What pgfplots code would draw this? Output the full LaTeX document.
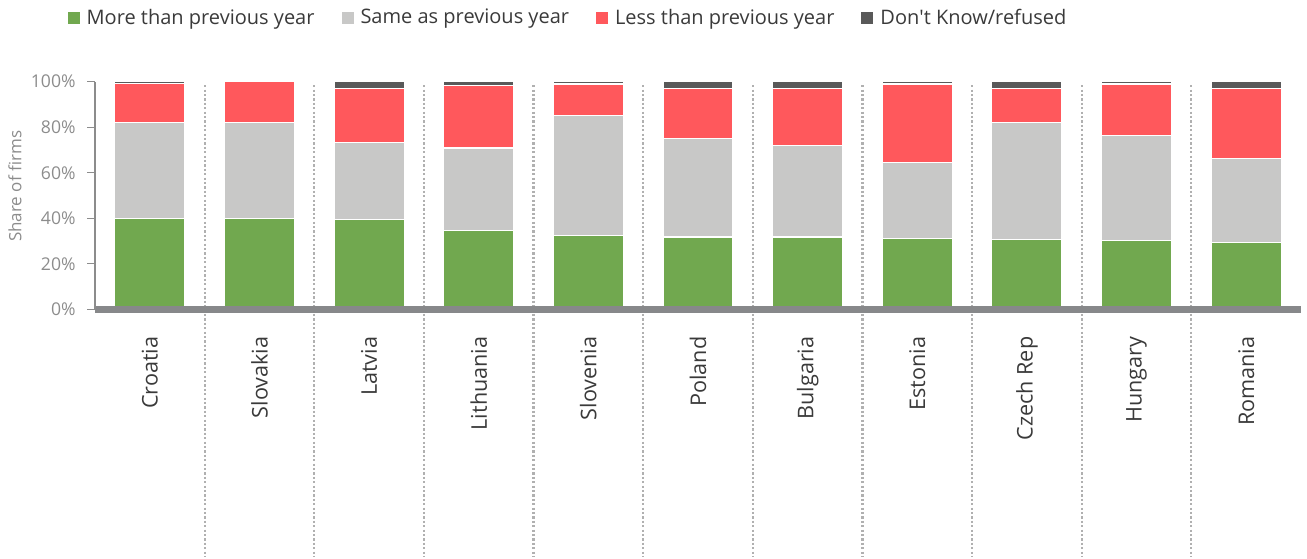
\documentclass[border=0pt]{standalone}
\usepackage{pgfplots}
\usepackage{pgfplotstable}
\pgfplotsset{compat=1.18}
\usepackage{fontspec}
\setmainfont{Open Sans}
\definecolor{cgreen}{HTML}{71A84F}
\definecolor{cgray}{HTML}{C8C8C7}
\definecolor{cred}{HTML}{FF585C}
\definecolor{cdark}{HTML}{595959}
\definecolor{basegray}{HTML}{87888A}
\definecolor{labgray}{HTML}{8C8C8C}
\definecolor{sepgray}{HTML}{B0B0B0}
\definecolor{textdark}{HTML}{3A3A3A}

\pgfplotstableread{
idx more same less dk
0  40.0 42.0 17.3 0.7
1  40.0 42.0 18.0 0.0
2  39.5 33.7 23.9 2.9
3  34.7 36.2 27.3 1.8
4  32.6 52.6 13.8 1.0
5  31.8 43.2 22.1 2.9
6  31.8 40.3 25.0 2.9
7  31.2 33.2 34.6 1.0
8  30.8 51.2 15.1 2.9
9  30.3 46.0 22.7 1.0
10 29.3 37.0 30.8 2.9
}\data

\begin{document}
\begin{tikzpicture}
\begin{axis}[
  at={(47.5pt,124.35pt)}, anchor=south west,
  scale only axis, width=603pt, height=113.8pt,
  xmin=-0.5, xmax=10.5, ymin=0, ymax=100,
  ybar stacked, bar width=0.64,
  axis on top,
  axis x line*=bottom, axis y line*=left,
  x axis line style={-, line width=3.3pt, color=basegray},
  y axis line style={-, line width=0.8pt, color=labgray},
  xtick=data,
  xticklabels={Croatia,Slovakia,Latvia,Lithuania,Slovenia,Poland,Bulgaria,Estonia,Czech Rep,Hungary,Romania},
  xtick style={draw=none},
  xticklabel style={rotate=90, anchor=east, inner sep=0pt, font=\fontsize{10.8}{12}\selectfont, text=textdark},
  xticklabel shift=9.5pt,
  ytick={0,20,40,60,80,100},
  yticklabels={0\%,20\%,40\%,60\%,80\%,100\%},
  ytick style={color=labgray, line width=0.6pt},
  tick align=outside, major tick length=4pt,
  yticklabel style={font=\fontsize{8.8}{10}\selectfont, text=labgray, inner sep=0pt},
  yticklabel shift=5.5pt,
  ylabel={Share of firms},
  ylabel style={at={(axis description cs:-0.0663,0.54)}, anchor=center, font=\fontsize{8.5}{10}\selectfont, text=labgray},
  legend columns=4,
  legend cell align=left,
  legend image code/.code={\path[#1, draw=none] (0pt,-3pt) rectangle (6pt,3pt);},
  legend style={at={(axis description cs:-0.023,1.28)}, anchor=west, draw=none, fill=none, inner sep=0pt,
    font=\fontsize{10}{12}\selectfont, text=textdark,
    nodes={inner sep=1.5pt},
    /tikz/every odd column/.append style={column sep=2pt},
    /tikz/every even column/.append style={column sep=12pt}},
  clip=false,
]
\addplot[fill=cgreen, draw=white, line width=0.6pt] table[x=idx, y=more] {\data};
\addplot[fill=cgray, draw=white, line width=0.6pt] table[x=idx, y=same] {\data};
\addplot[fill=cred, draw=white, line width=0.6pt] table[x=idx, y=less] {\data};
\addplot[fill=cdark, draw=white, line width=0.6pt] table[x=idx, y=dk] {\data};
\legend{More than previous year, Same as previous year, Less than previous year, Don\textquotesingle t Know/refused}
\pgfplotsinvokeforeach{0.5,1.5,2.5,3.5,4.5,5.5,6.5,7.5,8.5,9.5}{
  \draw[sepgray, line width=1.1pt, dash pattern=on 1.1pt off 1.1pt] (axis cs:#1,98.5) -- (axis cs:#1,-109);
}
\end{axis}
\pgfresetboundingbox
\path[use as bounding box] (0,0) rectangle (653.5pt,279pt);
\end{tikzpicture}
\end{document}
